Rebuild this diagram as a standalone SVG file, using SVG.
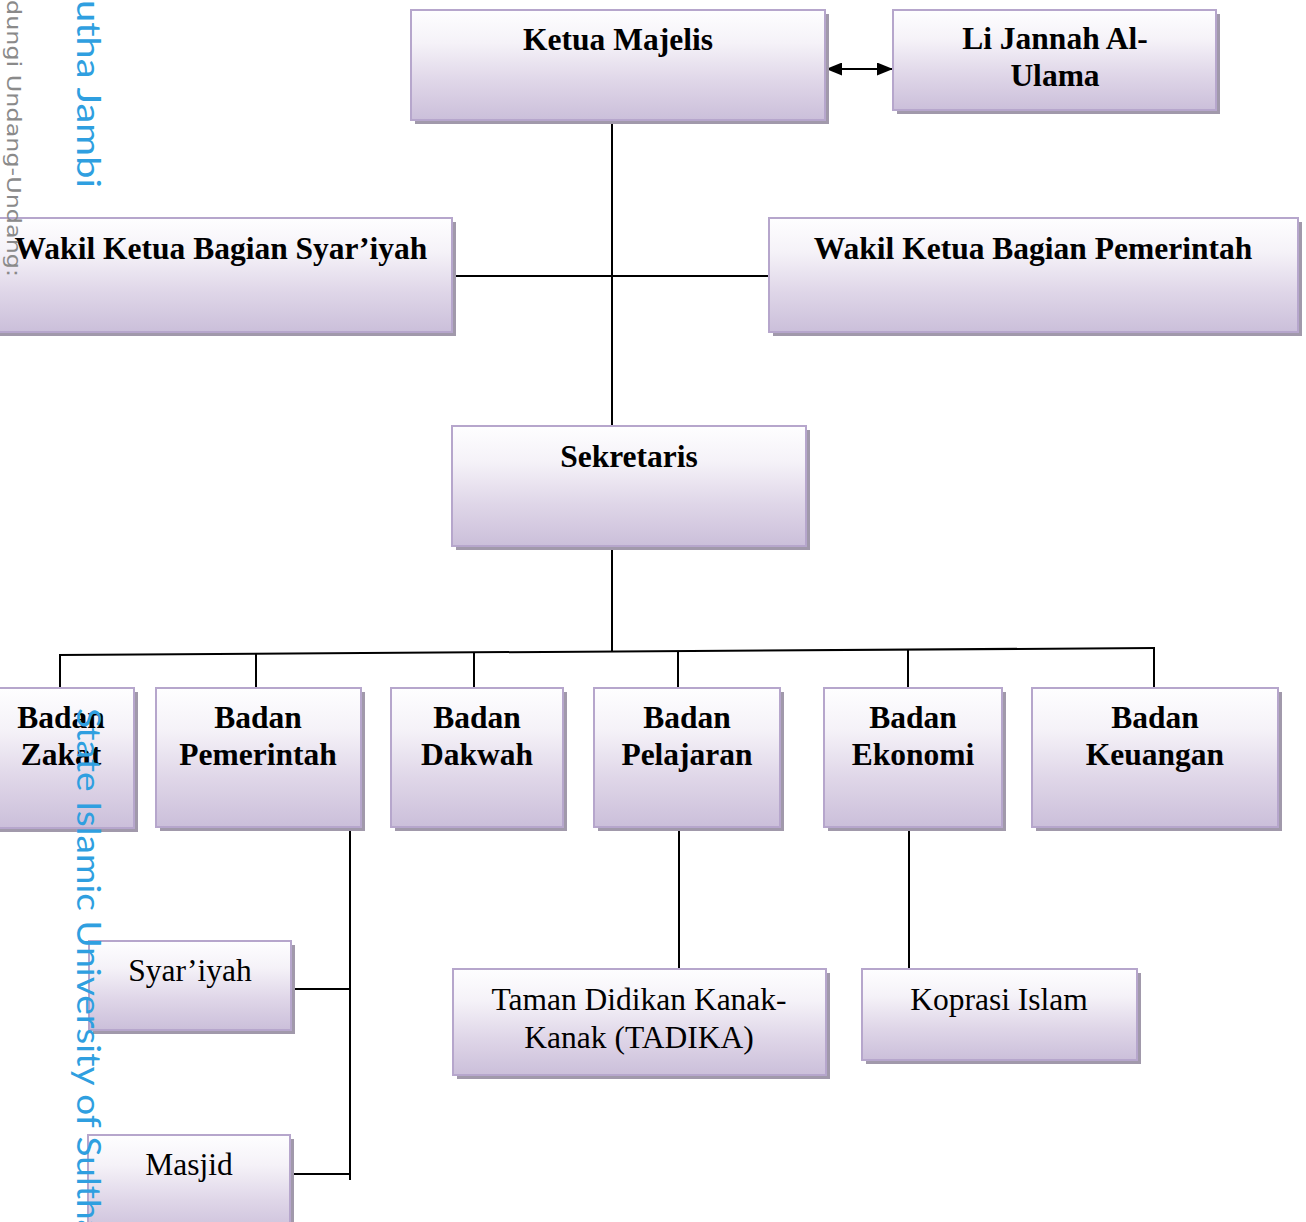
<svg xmlns="http://www.w3.org/2000/svg" width="1306" height="1222" viewBox="0 0 1306 1222">
<style>
.sh{fill:#a199ab}
.bx{fill:url(#g);stroke:#b6a6cc;stroke-width:2}
.b{font-family:"Liberation Serif","Times New Roman",serif;font-weight:bold;font-size:31.5px;fill:#000;text-anchor:middle}
.r{font-family:"Liberation Serif","Times New Roman",serif;font-size:31.5px;fill:#000;text-anchor:middle}
.ln{stroke:#000;stroke-width:2;fill:none}
.wm{font-family:Lato,"DejaVu Sans",sans-serif;font-weight:400;fill:#2f9fe0;font-size:33px}
.wg{font-family:"DejaVu Sans",sans-serif;fill:#8a8a8a;font-size:20px}
</style>
<defs>
<linearGradient id="g" x1="0" y1="0" x2="0" y2="1">
<stop offset="0" stop-color="#fefeff"/>
<stop offset="0.3" stop-color="#f5f2f8"/>
<stop offset="0.65" stop-color="#dfd6e8"/>
<stop offset="1" stop-color="#cbbfda"/>
</linearGradient>
<marker id="ah" viewBox="0 0 16 13" refX="15" refY="6.5" markerWidth="16" markerHeight="13" markerUnits="userSpaceOnUse" orient="auto-start-reverse">
<path d="M0,0 L16,6.5 L0,13 Z" fill="#000"/>
</marker>
</defs>
<rect width="1306" height="1222" fill="#fff"/>

<g id="connectors">
<path class="ln" d="M612,120 V426"/>
<path class="ln" d="M452,276 H769"/>
<path class="ln" d="M827,69 H892" marker-start="url(#ah)" marker-end="url(#ah)"/>
<path class="ln" d="M612,546 V651"/>
<path class="ln" d="M59,655 L1155,648"/>
<path class="ln" d="M60,654 V688 M256,653 V688 M474,652 V688 M678,651 V688 M908,649 V688 M1154,648 V688"/>
<path class="ln" d="M350,827 V1180 M291,989 H351 M290,1174 H351"/>
<path class="ln" d="M679,827 V969 M909,827 V969"/>
</g>

<g id="ketua"><rect class="sh" x="415" y="14" width="414" height="110"/><rect class="bx" x="411" y="10" width="414" height="110"/><text class="b" x="618" y="50">Ketua Majelis</text></g>
<g id="lijannah"><rect class="sh" x="897" y="14" width="323" height="100"/><rect class="bx" x="893" y="10" width="323" height="100"/><text class="b" x="1055" y="49">Li Jannah Al-</text><text class="b" x="1055" y="86">Ulama</text></g>
<g id="wakil-syariyah"><rect class="sh" x="-6" y="222" width="462" height="114"/><rect class="bx" x="-10" y="218" width="462" height="114"/><text class="b" x="221" y="259">Wakil Ketua Bagian Syar’iyah</text></g>
<g id="wakil-pemerintah"><rect class="sh" x="773" y="222" width="529" height="114"/><rect class="bx" x="769" y="218" width="529" height="114"/><text class="b" x="1033" y="259">Wakil Ketua Bagian Pemerintah</text></g>
<g id="sekretaris"><rect class="sh" x="456" y="430" width="354" height="120"/><rect class="bx" x="452" y="426" width="354" height="120"/><text class="b" x="629" y="467">Sekretaris</text></g>

<g id="badan-zakat"><rect class="sh" x="-8" y="692" width="146" height="140"/><rect class="bx" x="-12" y="688" width="146" height="140"/><text class="b" x="61" y="728">Badan</text><text class="b" x="61" y="765">Zakat</text></g>
<g id="badan-pemerintah"><rect class="sh" x="160" y="692" width="205" height="139"/><rect class="bx" x="156" y="688" width="205" height="139"/><text class="b" x="258" y="728">Badan</text><text class="b" x="258" y="765">Pemerintah</text></g>
<g id="badan-dakwah"><rect class="sh" x="395" y="692" width="172" height="139"/><rect class="bx" x="391" y="688" width="172" height="139"/><text class="b" x="477" y="728">Badan</text><text class="b" x="477" y="765">Dakwah</text></g>
<g id="badan-pelajaran"><rect class="sh" x="598" y="692" width="186" height="139"/><rect class="bx" x="594" y="688" width="186" height="139"/><text class="b" x="687" y="728">Badan</text><text class="b" x="687" y="765">Pelajaran</text></g>
<g id="badan-ekonomi"><rect class="sh" x="828" y="692" width="178" height="139"/><rect class="bx" x="824" y="688" width="178" height="139"/><text class="b" x="913" y="728">Badan</text><text class="b" x="913" y="765">Ekonomi</text></g>
<g id="badan-keuangan"><rect class="sh" x="1036" y="692" width="246" height="139"/><rect class="bx" x="1032" y="688" width="246" height="139"/><text class="b" x="1155" y="728">Badan</text><text class="b" x="1155" y="765">Keuangan</text></g>

<g id="syariyah"><rect class="sh" x="93" y="945" width="202" height="89"/><rect class="bx" x="89" y="941" width="202" height="89"/><text class="r" x="190" y="981">Syar’iyah</text></g>
<g id="masjid"><rect class="sh" x="92" y="1139" width="202" height="100"/><rect class="bx" x="88" y="1135" width="202" height="100"/><text class="r" x="189" y="1175">Masjid</text></g>
<g id="tadika"><rect class="sh" x="457" y="973" width="373" height="106"/><rect class="bx" x="453" y="969" width="373" height="106"/><text class="r" x="639" y="1010">Taman Didikan Kanak-</text><text class="r" x="639" y="1048">Kanak (TADIKA)</text></g>
<g id="koprasi"><rect class="sh" x="866" y="973" width="275" height="91"/><rect class="bx" x="862" y="969" width="275" height="91"/><text class="r" x="999" y="1010">Koprasi Islam</text></g>

<g id="watermark">
<text class="wg" transform="translate(7,0) rotate(90)" textLength="277" lengthAdjust="spacingAndGlyphs">dungi Undang-Undang:</text>
<text class="wm" transform="translate(77,0) rotate(90)" textLength="188" lengthAdjust="spacingAndGlyphs">utha Jambi</text>
<text class="wm" transform="translate(77,708) rotate(90)" textLength="530" lengthAdjust="spacingAndGlyphs">State Islamic University of Sultha</text>
</g>
</svg>
